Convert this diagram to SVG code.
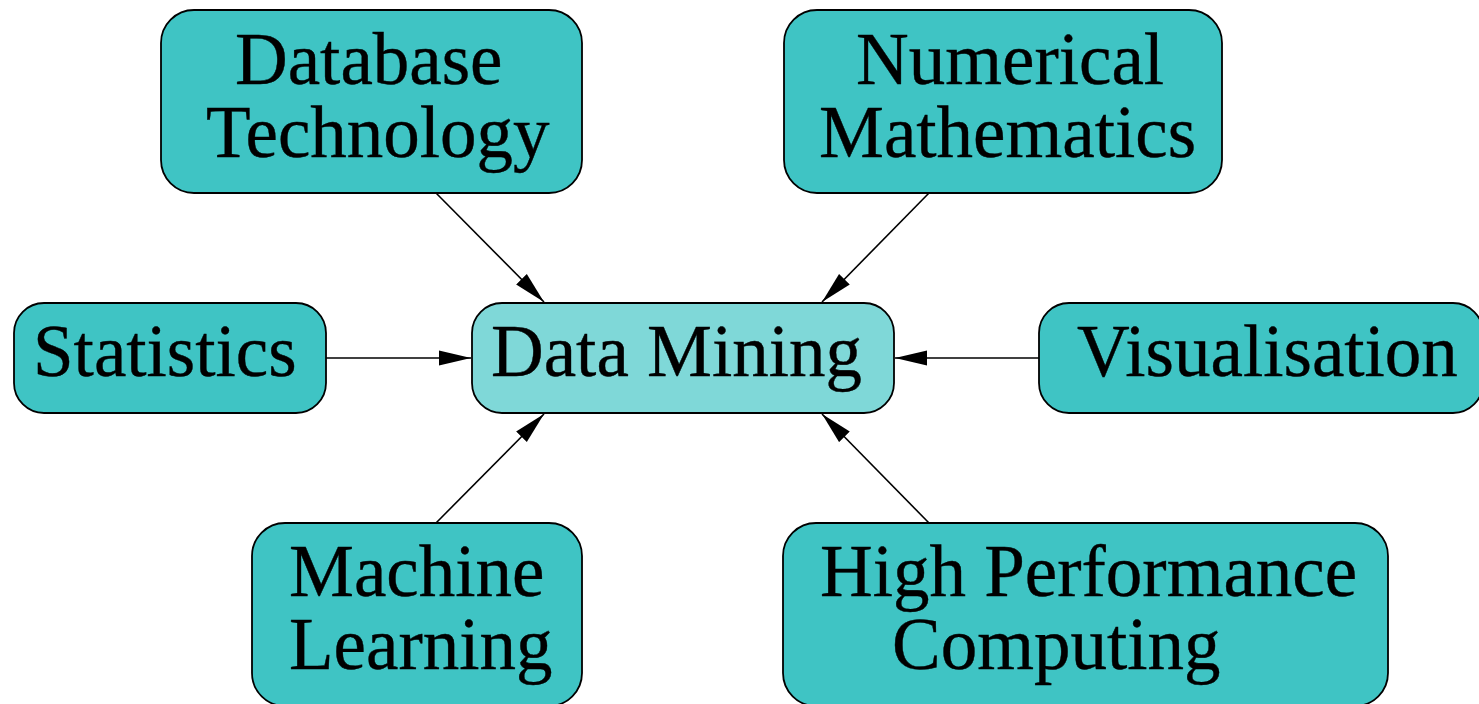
<svg xmlns="http://www.w3.org/2000/svg" width="1479" height="704" viewBox="0 0 1479 704">
<style>
.box{fill:#3fc4c4;stroke:#000;stroke-width:1.8}
.center{fill:#7fd8d8;stroke:#000;stroke-width:1.8}
.lbl{font-family:"Liberation Serif","Times New Roman",serif;font-size:73px;fill:#000;stroke:#000;stroke-width:0.4}
.edge{stroke:#000;stroke-width:1.6;fill:none;marker-end:url(#ah)}
</style>
<defs>
<marker id="ah" markerUnits="userSpaceOnUse" markerWidth="34" markerHeight="18" refX="32" refY="8" orient="auto">
<path d="M0,0.5 L32,8 L0,15.5 z" fill="#000"/>
</marker>
</defs>
<rect width="1479" height="704" fill="#fff"/>
<g id="edges">
<line class="edge" x1="436" y1="193" x2="544" y2="302"/>
<line class="edge" x1="929" y1="193" x2="822" y2="302"/>
<line class="edge" x1="326" y1="358" x2="471" y2="358"/>
<line class="edge" x1="1039" y1="358" x2="895" y2="358"/>
<line class="edge" x1="436" y1="523" x2="544" y2="414"/>
<line class="edge" x1="929" y1="523" x2="822" y2="414"/>
</g>
<g id="n-database">
<rect class="box" x="161" y="10" width="421" height="183" rx="33"/>
<text class="lbl" x="235" y="84">Database</text>
<text class="lbl" x="206" y="157">Technology</text>
</g>
<g id="n-numerical">
<rect class="box" x="784" y="10" width="438" height="183" rx="33"/>
<text class="lbl" x="856" y="84">Numerical</text>
<text class="lbl" x="819" y="157">Mathematics</text>
</g>
<g id="n-statistics">
<rect class="box" x="14" y="303" width="312" height="110" rx="30"/>
<text class="lbl" x="33" y="376">Statistics</text>
</g>
<g id="n-datamining">
<rect class="center" x="472" y="303" width="422" height="110" rx="30"/>
<text class="lbl" x="491" y="376">Data Mining</text>
</g>
<g id="n-visualisation">
<rect class="box" x="1039" y="303" width="444" height="110" rx="30"/>
<text class="lbl" x="1077" y="376">Visualisation</text>
</g>
<g id="n-machine">
<rect class="box" x="252" y="523" width="330" height="183" rx="33"/>
<text class="lbl" x="289" y="596">Machine</text>
<text class="lbl" x="289" y="669">Learning</text>
</g>
<g id="n-hpc">
<rect class="box" x="783" y="523" width="605" height="183" rx="33"/>
<text class="lbl" x="820" y="596">High Performance</text>
<text class="lbl" x="892" y="669">Computing</text>
</g>
</svg>
